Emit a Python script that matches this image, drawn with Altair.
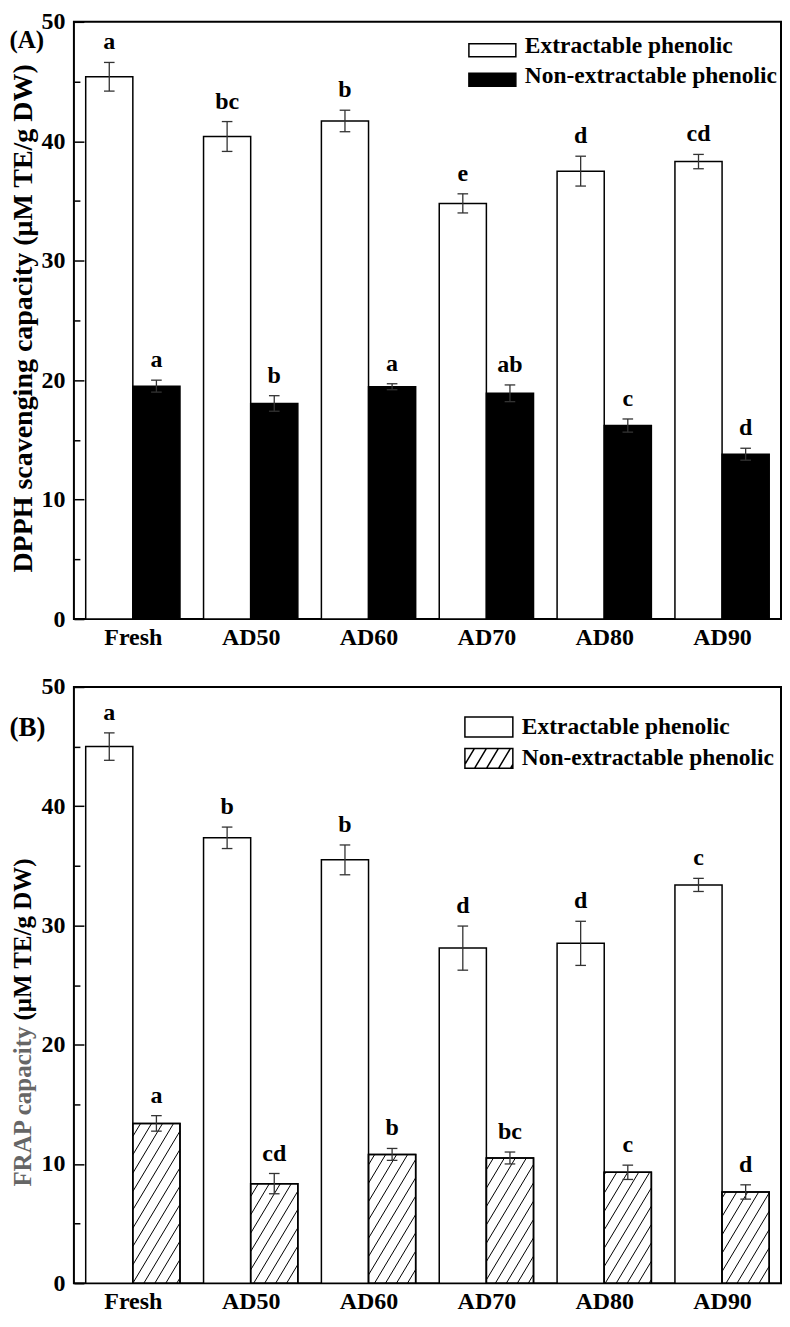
import json
import math
import altair as alt
import pandas as pd

FONT = "Liberation Serif"

categories = ["Fresh", "AD50", "AD60", "AD70", "AD80", "AD90"]
groups = ["Extractable phenolic", "Non-extractable phenolic"]
panel_tags = ["(A)", "(B)"]
y_title_a = "DPPH scavenging capacity (μM TE/g DW)"
y_title_b_gray = "FRAP capacity"
y_title_b_black = "(μM TE/g DW)"

# Panel A: DPPH
dpph_ext = [45.4, 40.4, 41.7, 34.8, 37.5, 38.3]
dpph_ext_sd = [1.2, 1.25, 0.9, 0.8, 1.25, 0.6]
dpph_ext_lab = ["a", "bc", "b", "e", "d", "cd"]
dpph_non = [19.5, 18.05, 19.45, 18.9, 16.2, 13.8]
dpph_non_sd = [0.5, 0.65, 0.25, 0.7, 0.55, 0.5]
dpph_non_lab = ["a", "b", "a", "ab", "c", "d"]

# Panel B: FRAP
frap_ext = [45.0, 37.35, 35.5, 28.1, 28.5, 33.4]
frap_ext_sd = [1.15, 0.9, 1.25, 1.85, 1.85, 0.55]
frap_ext_lab = ["a", "b", "b", "d", "d", "c"]
frap_non = [13.4, 8.35, 10.8, 10.5, 9.3, 7.65]
frap_non_sd = [0.65, 0.85, 0.5, 0.5, 0.6, 0.6]
frap_non_lab = ["a", "cd", "b", "bc", "c", "d"]

CAP = 0.045
ERR = "#333333"


def build_table(ext, ext_sd, ext_lab, non, non_sd, non_lab):
    rows = []
    for i, cat in enumerate(categories):
        for g, vals, sds, labs, x0, x1 in (
            (groups[0], ext, ext_sd, ext_lab, i - 0.4, i),
            (groups[1], non, non_sd, non_lab, i, i + 0.4),
        ):
            xc = (x0 + x1) / 2
            rows.append({"cat": cat, "group": g, "x0": x0, "x1": x1, "xc": xc,
                         "cl": xc - CAP, "cr": xc + CAP, "value": vals[i], "zero": 0,
                         "lo": vals[i] - sds[i], "hi": vals[i] + sds[i],
                         "label": labs[i]})
    return pd.DataFrame(rows)


def hatch_table(df, k, d):
    segs = []
    for _, r in df[df.group == groups[1]].iterrows():
        h = r.value
        n0 = math.floor((r.x0 - h / k) / d) - 1
        n1 = math.ceil(r.x1 / d) + 1
        for n in range(n0, n1 + 1):
            c = n * d
            xa = max(r.x0, c)
            xb = min(r.x1, c + h / k)
            if xb - xa > 1e-6:
                segs.append({"hx": xa, "hy": k * (xa - c), "hx2": xb, "hy2": k * (xb - c)})
    return pd.DataFrame(segs)


def rect_path(hh, shift=0.0):
    a, b = -hh + shift, hh + shift
    return f"M-1,{a:.3f}L1,{a:.3f}L1,{b:.3f}L-1,{b:.3f}Z"


def hatch_path(hh, run, step, start):
    parts = [rect_path(hh)]
    c = start
    while c < 1:
        xa, xb = max(-1.0, c), min(1.0, c + run)
        if xb > xa:
            ya = hh - 2 * hh * (xa - c) / run
            yb = hh - 2 * hh * (xb - c) / run
            parts.append(f"M{xa:.3f},{ya:.3f}L{xb:.3f},{yb:.3f}")
        c += step
    return "".join(parts)


def panel(df, width, height, non_fill, sym_paths, sym_size, legend_xy,
          hatch_df=None, extras=()):
    xscale = alt.Scale(domain=[-0.5, 5.5], nice=False, zero=False)
    yscale = alt.Scale(domain=[0, 50], nice=False, zero=True)
    x_axis = alt.Axis(values=list(range(len(categories))),
                      labelExpr=f"{json.dumps(categories)}[datum.value]",
                      ticks=False, domain=False, grid=False, title=None,
                      labelFont=FONT, labelFontSize=24, labelFontWeight="bold",
                      labelColor="black", labelPadding=6, labelFlush=False,
                      labelOverlap=False)
    y_axis = alt.Axis(values=list(range(0, 51, 5)),
                      labelExpr="datum.value % 10 == 0 ? datum.label : ''",
                      ticks=False, domain=False, grid=True, gridColor="black",
                      gridWidth=1.5, gridOpacity=1,
                      gridDash=alt.condition("datum.value % 10 == 0",
                                             alt.value([10, 3000]), alt.value([6, 3000])),
                      labelFont=FONT, labelFontSize=24, labelFontWeight="bold",
                      labelColor="black", labelPadding=9, labelOverlap=False,
                      labelFlush=False, title=None)

    def legend(i):
        return alt.Legend(orient="none", legendX=legend_xy[i][0], legendY=legend_xy[i][1],
                          title=None, padding=0, offset=0, symbolType=sym_paths[i],
                          symbolSize=sym_size, symbolStrokeColor="black",
                          symbolStrokeWidth=1.5, labelFont=FONT, labelFontSize=23.5,
                          labelFontWeight="bold", labelColor="black", labelLimit=400,
                          labelOffset=8)

    ext = df[df.group == groups[0]]
    non = df[df.group == groups[1]]
    X = lambda f: alt.X(f, scale=xscale)
    Y = lambda f: alt.Y(f, scale=yscale)

    layers = [
        alt.Chart(ext).mark_bar(stroke="black", strokeWidth=1.5).encode(
            x=alt.X("x0:Q", scale=xscale, axis=x_axis), x2="x1:Q",
            y=alt.Y("value:Q", scale=yscale, axis=y_axis), y2="zero:Q",
            color=alt.Color("group:N", scale=alt.Scale(domain=[groups[0]], range=["white"]),
                            legend=legend(0))),
        alt.Chart(non).mark_bar(stroke="black", strokeWidth=1.5).encode(
            x=X("x0:Q"), x2="x1:Q", y=Y("value:Q"), y2="zero:Q",
            color=alt.Color("group:N", scale=alt.Scale(domain=[groups[1]], range=[non_fill]),
                            legend=legend(1))),
    ]
    if hatch_df is not None:
        layers.append(alt.Chart(hatch_df).mark_rule(color="black", strokeWidth=1).encode(
            x=X("hx:Q"), x2="hx2:Q", y=Y("hy:Q"), y2="hy2:Q"))
        layers.append(alt.Chart(non).mark_bar(stroke="black", strokeWidth=1.5,
                                              fillOpacity=0).encode(
            x=X("x0:Q"), x2="x1:Q", y=Y("value:Q"), y2="zero:Q"))
    layers += [
        alt.Chart(df).mark_rule(color=ERR, strokeWidth=1.3).encode(
            x=X("xc:Q"), y=Y("lo:Q"), y2="hi:Q"),
        alt.Chart(df).mark_rule(color=ERR, strokeWidth=1.3).encode(
            x=X("cl:Q"), x2="cr:Q", y=Y("hi:Q")),
        alt.Chart(df).mark_rule(color=ERR, strokeWidth=1.3).encode(
            x=X("cl:Q"), x2="cr:Q", y=Y("lo:Q")),
        alt.Chart(df).mark_text(font=FONT, fontSize=24, fontWeight="bold", color="black",
                                baseline="alphabetic", dy=-13).encode(
            x=X("xc:Q"), y=Y("hi:Q"), text="label:N"),
    ]
    layers += list(extras)
    return alt.layer(*layers).resolve_scale(color="independent").properties(
        width=width, height=height)


def tag(text, x, y, size=28, **kw):
    return alt.Chart(pd.DataFrame({"t": [text]})).mark_text(
        font=FONT, fontSize=size, fontWeight="bold", **kw).encode(
        x=alt.value(x), y=alt.value(y), text="t:N")


df_a = build_table(dpph_ext, dpph_ext_sd, dpph_ext_lab, dpph_non, dpph_non_sd, dpph_non_lab)
df_b = build_table(frap_ext, frap_ext_sd, frap_ext_lab, frap_non, frap_non_sd, frap_non_lab)

W_A, H_A = 708, 598
W_B, H_B = 708, 597
# hatch: pixel slope 1.67, spacing 11 px
k_b = 1.67 * (W_B / 6) / (H_B / 50)
d_b = 11 / (W_B / 6)
hatch_b = hatch_table(df_b, k_b, d_b)

path_a = rect_path(6.5 / 23.5, 4 / 23.5)
path_b1 = rect_path(10 / 24)
path_b2 = hatch_path(10 / 24, 0.5, 0.5, -1.1)

chart_a = panel(df_a, W_A, H_A, "black", [path_a, path_a], 47 * 47,
                [(394.5, 0), (394.5, 29.5)],
                extras=[tag(panel_tags[0], -64.5, 26, size=25, align="left",
                            baseline="alphabetic", color="black"),
                        tag(y_title_a, -50, 297, size=28, angle=270, align="center",
                            baseline="middle", color="black")])

chart_b = panel(df_b, W_B, H_B, "white", [path_b1, path_b2], 48 * 48,
                [(390.5, 15), (390.5, 46.5)], hatch_df=hatch_b,
                extras=[tag(panel_tags[1], -64.5, 49, size=27, align="left",
                            baseline="alphabetic", color="black"),
                        tag(y_title_b_gray, -51, 340, size=25, angle=270, align="right",
                            baseline="middle", color="#666666"),
                        tag(y_title_b_black, -51, 334, size=25, angle=270, align="left",
                            baseline="middle", color="black")])

chart = alt.vconcat(chart_a, chart_b, spacing=24).properties(
    padding={"left": 0, "top": 0, "right": 0, "bottom": 0}
).configure_view(stroke="black", strokeWidth=2)

chart.save("out.html", embed_options={"renderer": "svg", "actions": False})
